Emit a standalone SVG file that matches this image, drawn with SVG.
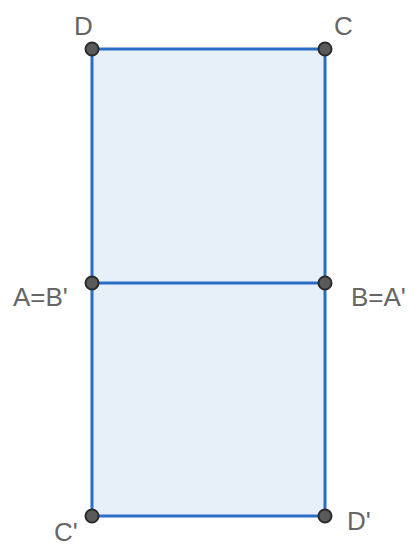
<svg xmlns="http://www.w3.org/2000/svg" width="416" height="549" viewBox="0 0 416 549">
<style>
.lbl{font-family:"Liberation Sans",Arial,sans-serif;font-size:26px;fill:#666666}
.seg{stroke:#2a6dc4;stroke-width:3;fill:none;stroke-linecap:round}
.pt{fill:#5a5a5a;stroke:#2b2b2b;stroke-width:2}
</style>
<rect x="0" y="0" width="416" height="549" fill="#ffffff"/>
<g id="poly">
<rect x="92" y="49" width="233" height="467" fill="#e7eff9"/>
</g>
<g id="connectors">
<line class="seg" x1="92" y1="49" x2="325" y2="49"/>
<line class="seg" x1="325" y1="49" x2="325" y2="516"/>
<line class="seg" x1="325" y1="516" x2="92" y2="516"/>
<line class="seg" x1="92" y1="516" x2="92" y2="49"/>
<line class="seg" x1="92" y1="283" x2="325" y2="283"/>
</g>
<g id="D"><circle class="pt" cx="92" cy="49" r="6.5"/><text class="lbl" x="74" y="35">D</text></g>
<g id="C"><circle class="pt" cx="325" cy="49" r="6.5"/><text class="lbl" x="334" y="35">C</text></g>
<g id="AB"><circle class="pt" cx="92" cy="283" r="6.5"/><text class="lbl" x="13" y="306">A=B'</text></g>
<g id="BA"><circle class="pt" cx="325" cy="283" r="6.5"/><text class="lbl" x="351" y="306">B=A'</text></g>
<g id="Cp"><circle class="pt" cx="92" cy="516" r="6.5"/><text class="lbl" x="54" y="541">C'</text></g>
<g id="Dp"><circle class="pt" cx="325" cy="516" r="6.5"/><text class="lbl" x="347" y="530">D'</text></g>
</svg>
